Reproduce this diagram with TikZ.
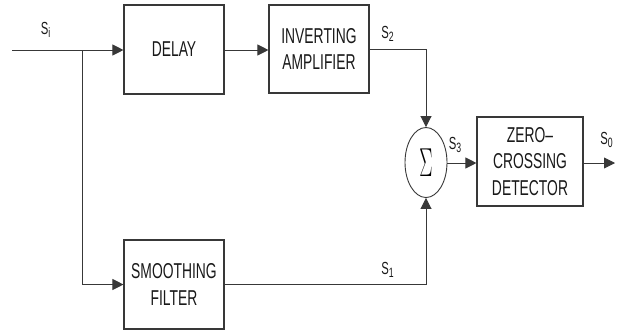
\documentclass[tikz,border=0pt]{standalone}
\usepackage{fontspec}
\usepackage{graphicx}
\usetikzlibrary{arrows.meta,shapes.geometric}
\newfontfamily\nf{Liberation Sans}[FakeStretch=0.645]
\newcommand\blkfont{\nf\fontsize{21.5}{26.7}\selectfont}
\newcommand\lblfont{\nf\fontsize{17.5}{17.5}\selectfont}
\newcommand\mysub[1]{\raisebox{-3pt}{\fontsize{13.5}{13.5}\selectfont #1}}
\definecolor{ln}{gray}{0.22}
\tikzset{
  blk/.style={draw=ln,line width=1.1pt,minimum width=100pt,minimum height=89pt,inner sep=0pt,align=center,font=\blkfont,text=black!90},
  conn/.style={draw=ln,line width=0.9pt},
  arr/.style={conn,-{Triangle[length=11pt,width=11pt]}},
  lbl/.style={font=\lblfont,inner sep=0pt,text=black!90}
}
\begin{document}
\begin{tikzpicture}[x=1pt,y=-1pt]
\useasboundingbox (0,0) rectangle (621,333);
\node[blk] (delay) at (174,49.5) {DELAY};
\node[blk,minimum height=88pt] (inv) at (319,49) {INVERTING\\AMPLIFIER};
\node[blk] (smooth) at (174,284.5) {SMOOTHING\\FILTER};
\node[blk,minimum width=106pt] (zcd) at (530,161.5) {ZERO\textendash\\CROSSING\\DETECTOR};
\node[draw=ln,line width=0.9pt,ellipse,minimum width=42pt,minimum height=70pt,inner sep=0pt] (sum) at (426,162.5) {\scalebox{0.95}[1.95]{\fontsize{20}{20}\selectfont$\Sigma$}};
\coordinate (in) at (12,50);
\coordinate (br) at (82,50);
\coordinate (out) at (615,163);
\draw[arr] (in) -- (delay.west |- in);
\draw[arr] (br) |- (smooth.west);
\draw[arr] (delay.east |- in) -- (inv.west |- in);
\draw[arr] (inv.east) -| (sum.north);
\draw[arr] (smooth.east) -| (sum.south);
\draw[arr] (sum.east |- out) -- (zcd.west |- out);
\draw[arr] (zcd.east |- out) -- (out);
\node[lbl] (si) at (45.5,30) {S\mysub{i}};
\node[lbl] (s2) at (387.5,34) {S\mysub{2}};
\node[lbl] (s3) at (455,145) {S\mysub{3}};
\node[lbl] (s0) at (606.5,139.5) {S\mysub{0}};
\node[lbl] (s1) at (387.5,270) {S\mysub{1}};
\end{tikzpicture}
\end{document}
